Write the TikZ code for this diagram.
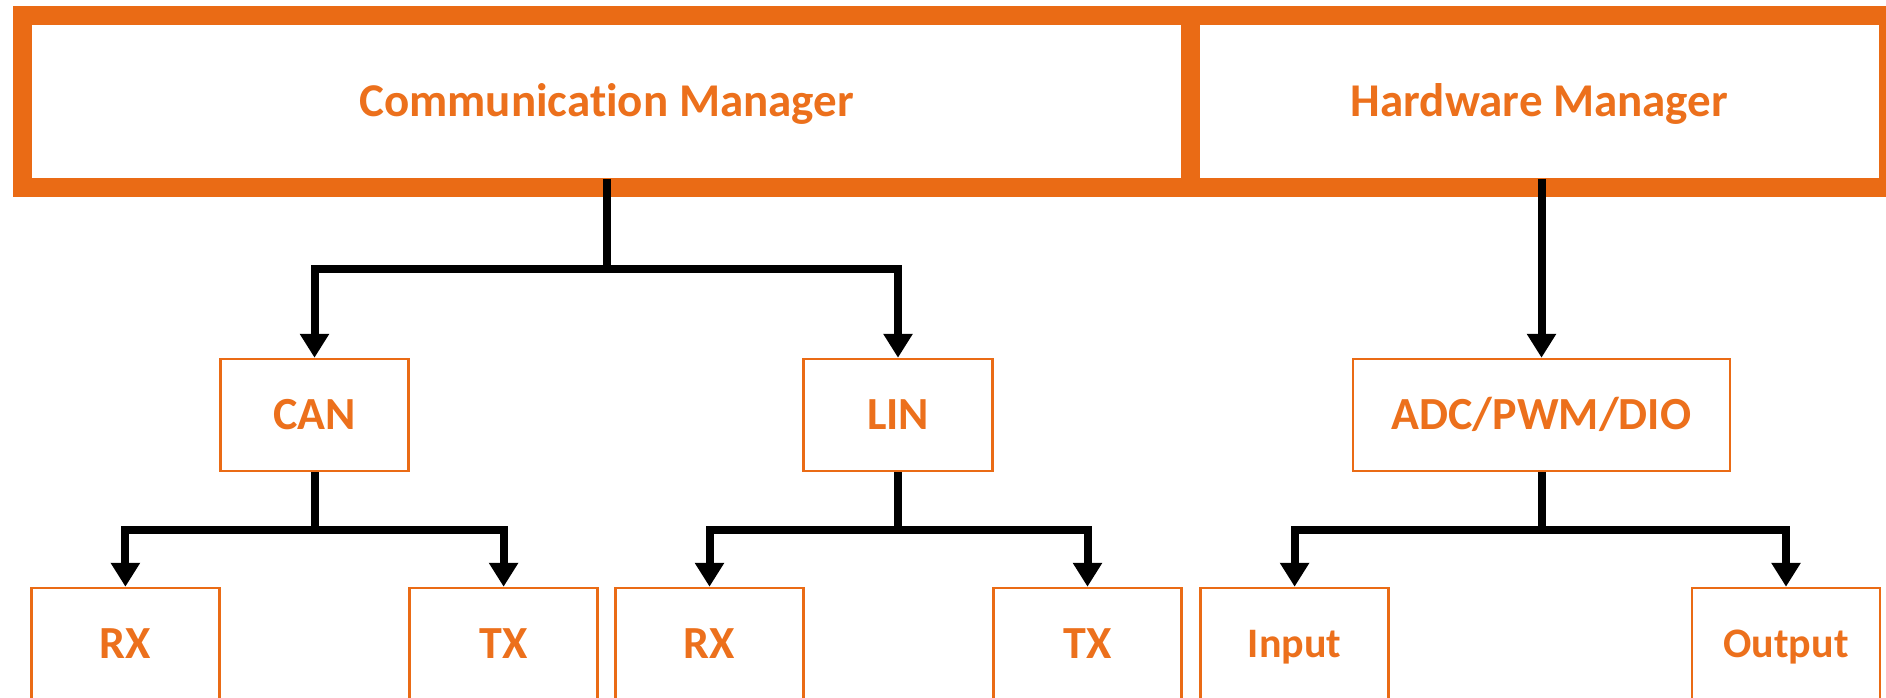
\documentclass[tikz,border=0pt]{standalone}
\usepackage{fontspec}
\setmainfont{Carlito}[Ligatures=NoCommon]
\usetikzlibrary{arrows.meta,calc}
\definecolor{mgrorange}{RGB}{234,107,21}
\definecolor{txtorange}{RGB}{236,112,28}
\tikzset{
  manager/.style={draw=mgrorange, line width=19pt, outer sep=0pt, inner sep=0pt,
    minimum height=172pt, text=txtorange,
    font=\bfseries\fontsize{47}{50}\selectfont, text height=29.7pt, text depth=0pt},
  unit/.style={draw=mgrorange, line width=2.5pt, inner sep=0pt,
    minimum height=112pt, text=txtorange,
    font=\bfseries\fontsize{46}{50}\selectfont, text height=29pt, text depth=0pt},
  leaf/.style={unit, minimum width=188pt},
  smallleaf/.style={leaf, font=\bfseries\fontsize{42}{46}\selectfont, text height=26.5pt},
  conn/.style={line width=8pt, draw=black},
  arr/.style={conn, -{Triangle[length=24pt,width=28pt]}}
}
\begin{document}
\begin{tikzpicture}[x=1pt,y=-1pt]
\useasboundingbox (0,0) rectangle (1886,697);

% top level managers
\node[manager, minimum width=1168pt] (comm) at (606.6,101.2) {Communication Manager};
\node[manager, minimum width=698pt] (hw) at (1539.5,101.2) {Hardware Manager};

% second level
\node[unit, minimum width=188pt] (can) at (314.5,415) {CAN};
\node[unit, minimum width=189pt] (lin) at (898,415) {LIN};
\node[unit, minimum width=377pt] (adc) at (1541.5,415) {ADC/PWM/DIO};

% third level
\node[leaf] (canrx) at (125.4,644) {RX};
\node[leaf] (cantx) at (503.6,644) {TX};
\node[leaf] (linrx) at (709.5,644) {RX};
\node[leaf] (lintx) at (1087.5,644) {TX};
\node[smallleaf] (in) at (1294.6,644) {Input};
\node[smallleaf] (out) at (1786,644) {Output};

% junction points of the branch lines
\coordinate (jcomm) at ($(comm.south)+(0,-187.2+269)$);
\coordinate (jcan) at (can.south |- 0,529.5);
\coordinate (jlin) at (lin.south |- 0,529.5);
\coordinate (jadc) at (adc.south |- 0,529.5);

% connectors
\draw[conn] ($(comm.south)+(0,-8.5)$) -- (jcomm);
\draw[arr] (jcomm) -| (can.north);
\draw[arr] (jcomm) -| (lin.north);
\draw[arr] ($(hw.south -| adc.north)+(0,-8.5)$) -- (adc.north);

\draw[conn] (can.south) -- (jcan);
\draw[arr] (jcan) -| (canrx.north);
\draw[arr] (jcan) -| (cantx.north);

\draw[conn] (lin.south) -- (jlin);
\draw[arr] (jlin) -| (linrx.north);
\draw[arr] (jlin) -| (lintx.north);

\draw[conn] (adc.south) -- (jadc);
\draw[arr] (jadc) -| (in.north);
\draw[arr] (jadc) -| (out.north);
\end{tikzpicture}
\end{document}
